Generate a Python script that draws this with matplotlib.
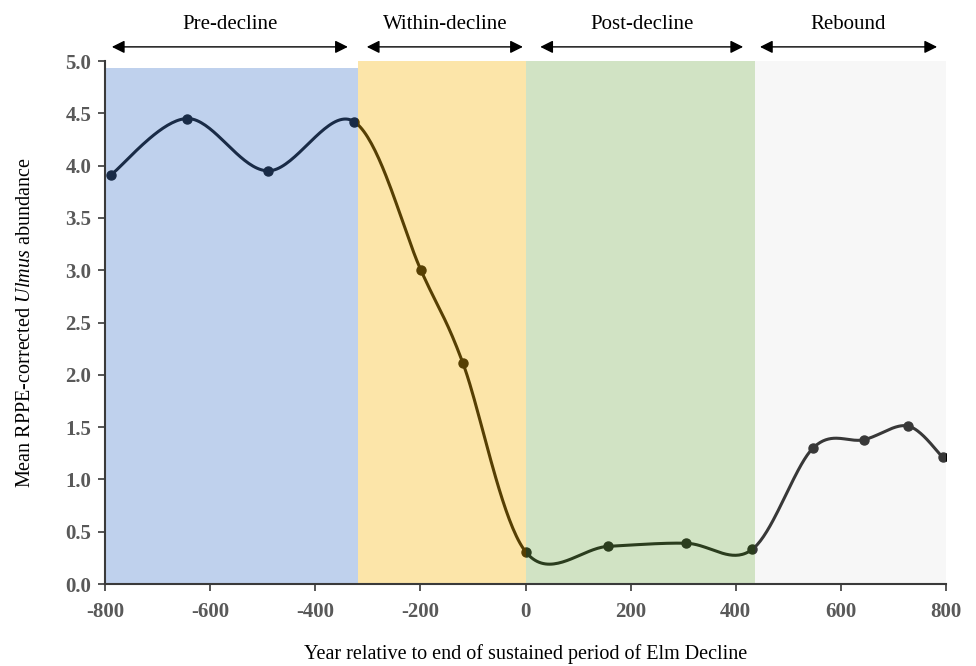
"""Mean RPPE-corrected Ulmus abundance around the Elm Decline."""

import numpy as np
import matplotlib.pyplot as plt

plt.rcParams["font.family"] = ["Liberation Serif", "DejaVu Serif"]
plt.rcParams["mathtext.fontset"] = "custom"
plt.rcParams["mathtext.it"] = "Liberation Serif:italic"
plt.rcParams["mathtext.rm"] = "Liberation Serif"
plt.rcParams["axes.unicode_minus"] = False

years = [-789, -644, -490, -326, -199, -119, 0, 157, 305, 431, 547, 644, 728, 794]
abundance = [3.91, 4.45, 3.95, 4.42, 3.00, 2.11, 0.31, 0.36, 0.39, 0.33, 1.30, 1.38, 1.51, 1.21]

phases = ["Pre-decline", "Within-decline", "Post-decline", "Rebound"]
phase_start = [-800, -319, 0, 436]
phase_end = [-319, 0, 436, 800]
phase_top = [4.93, 5.0, 5.0, 5.0]
arrow_start = [-787, -302, 28, 446]
arrow_end = [-338, -5, 414, 783]
phase_colors = ["#4a7dcc", "#f8b509", "#7db057", "#e2e2e2"]
phase_alpha = [0.35, 0.35, 0.35, 0.25]


def smooth(xs, ys, n=40):
    # Excel-style smoothed line: cubic Bezier with Catmull-Rom control points
    pts = np.column_stack([xs, ys]).astype(float)
    ext = np.vstack([pts[0], pts, pts[-1]])
    out = []
    t = np.linspace(0, 1, n)[:, None]
    for i in range(1, len(ext) - 2):
        p0, p1, p2, p3 = ext[i - 1], ext[i], ext[i + 1], ext[i + 2]
        c1 = p1 + (p2 - p0) / 6
        c2 = p2 - (p3 - p1) / 6
        seg = ((1 - t) ** 3) * p1 + 3 * ((1 - t) ** 2) * t * c1 + 3 * (1 - t) * t ** 2 * c2 + t ** 3 * p2
        out.append(seg)
    curve = np.vstack(out)
    return curve[:, 0], curve[:, 1]


fig = plt.figure(figsize=(9.76, 6.66), dpi=100)
ax = fig.add_axes([0.1076, 0.1231, 0.8617, 0.7853])

sx, sy = smooth(years, abundance)
ax.plot(sx, sy, color="black", lw=2.2, zorder=2)
ax.plot(years, abundance, "o", color="black", ms=6.5, zorder=2)

# translucent phase bands laid over the line
for x0, x1, top, c, a in zip(phase_start, phase_end, phase_top, phase_colors, phase_alpha):
    ax.fill_between([x0, x1], 0, top, color=c, alpha=a, lw=0, zorder=3)

trans = ax.get_xaxis_transform()
for name, a0, a1 in zip(phases, arrow_start, arrow_end):
    ax.annotate("", xy=(a1, 1.027), xytext=(a0, 1.027), xycoords=trans, textcoords=trans,
                arrowprops=dict(arrowstyle="<|-|>", color="black", lw=1.0,
                                mutation_scale=19, shrinkA=0, shrinkB=0), annotation_clip=False)
    ax.text((a0 + a1) / 2, 1.069, name, transform=trans, ha="center", va="center", fontsize=15)

ax.set_xlim(-800, 800)
ax.set_ylim(0, 5.0)
ax.set_xticks(np.arange(-800, 801, 200))
ax.set_yticks(np.arange(0, 5.01, 0.5))
ax.set_yticklabels([f"{v:.1f}" for v in np.arange(0, 5.01, 0.5)])

for side in ["top", "right"]:
    ax.spines[side].set_visible(False)
for side in ["left", "bottom"]:
    ax.spines[side].set_color("#3a3a3a")
    ax.spines[side].set_linewidth(1.5)
    ax.spines[side].set_zorder(4)

ax.tick_params(axis="both", direction="out", length=5, width=1.2, color="#3a3a3a",
               labelsize=15, labelcolor="#595959")
ax.tick_params(axis="x", pad=8)
ax.tick_params(axis="y", pad=5)
for lbl in ax.get_xticklabels() + ax.get_yticklabels():
    lbl.set_fontweight("bold")

ax.set_xlabel("Year relative to end of sustained period of Elm Decline", fontsize=14.5, labelpad=16)
ax.set_ylabel(r"Mean RPPE-corrected $\mathit{Ulmus}$ abundance", fontsize=14.5, labelpad=22)

fig.savefig("out.png", dpi=100)
